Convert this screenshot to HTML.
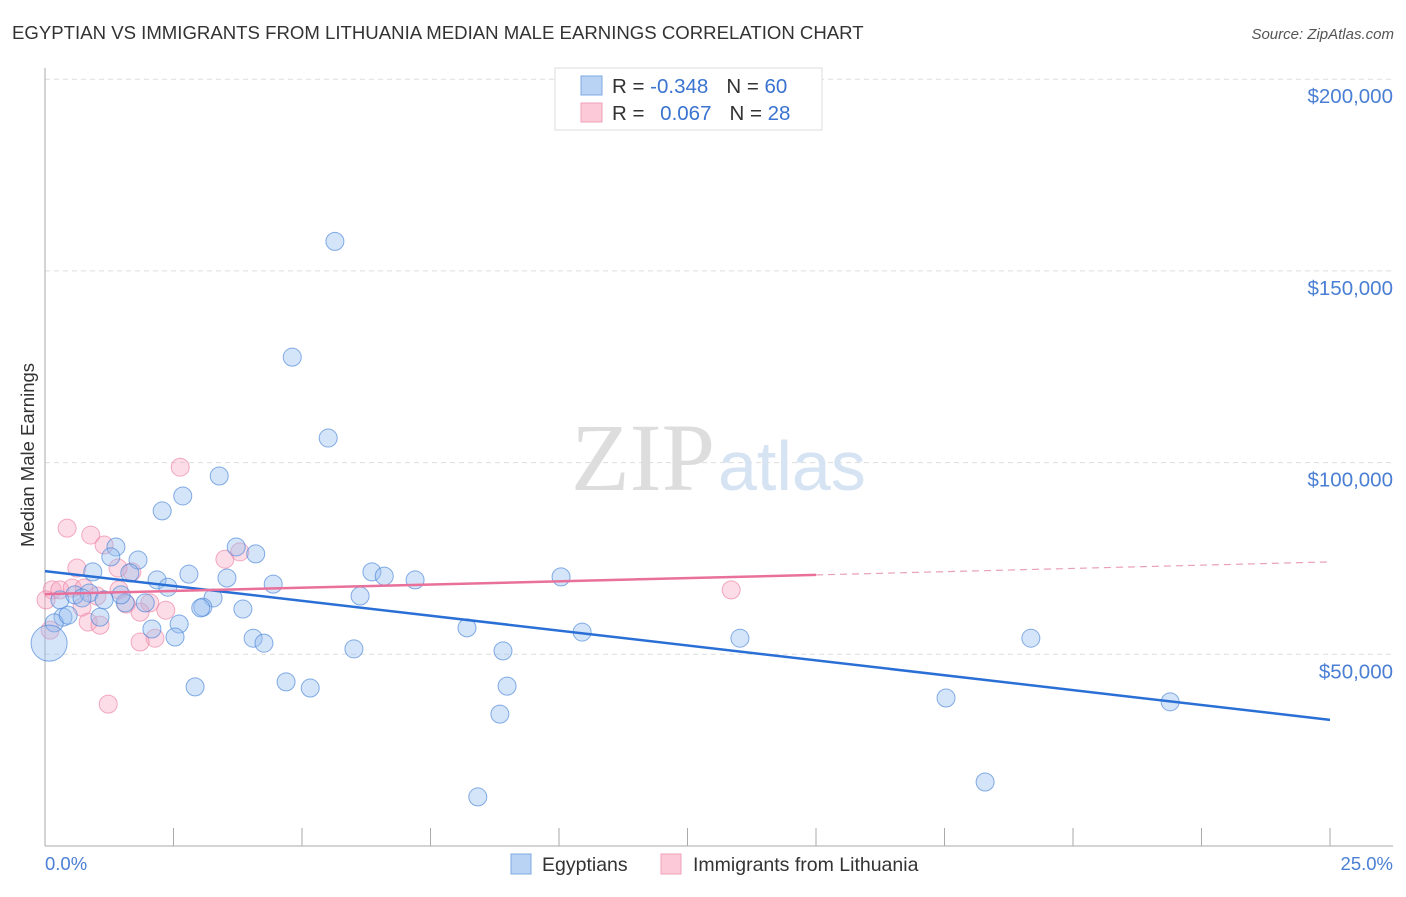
<!DOCTYPE html>
<html><head><meta charset="utf-8"><style>
body{margin:0;background:#fff;font-family:"Liberation Sans",sans-serif}
svg text{font-family:"Liberation Sans",sans-serif}
</style></head><body>
<svg width="1406" height="892">
<text x="12" y="39" font-size="18.6" fill="#333">EGYPTIAN VS IMMIGRANTS FROM LITHUANIA MEDIAN MALE EARNINGS CORRELATION CHART</text>
<text x="1394" y="39" font-size="15" fill="#555" font-style="italic" text-anchor="end">Source: ZipAtlas.com</text>
<g id="grid"></g>
<text x="715" y="490" font-size="96" fill="#ddd" text-anchor="end" style="font-family:'Liberation Serif',serif">ZIP</text>
<text x="718" y="490" font-size="70" fill="#d5e3f3">atlas</text>
<line x1="45" y1="68" x2="45" y2="846" stroke="#aaa"/>
<line x1="45" y1="846" x2="1393" y2="846" stroke="#aaa"/>
<g id="ticks"></g>
<g id="pts"></g>
<g id="lines"></g>
<text transform="translate(34,455) rotate(-90)" font-size="18.5" fill="#333" text-anchor="middle">Median Male Earnings</text>
<text x="45" y="870" font-size="18.5" fill="#4a7fd4">0.0%</text>
<text x="1393" y="870" font-size="18.5" fill="#4a7fd4" text-anchor="end">25.0%</text>
<g>
<rect x="555" y="68" width="267" height="62" fill="#fff" stroke="#ddd"/>
<rect x="581" y="76" width="21" height="19" fill="#b9d3f4" stroke="#7fa9e3"/>
<rect x="581" y="103" width="21" height="19" fill="#fcc9d8" stroke="#f0a0b8"/>
<text x="612" y="93" font-size="20.5" fill="#333">R = <tspan fill="#3a73d0">-0.348</tspan><tspan dx="18">N = </tspan><tspan fill="#3a73d0">60</tspan></text>
<text x="612" y="120" font-size="20.5" fill="#333">R = <tspan dx="10" fill="#3a73d0">0.067</tspan><tspan dx="18">N = </tspan><tspan fill="#3a73d0">28</tspan></text>
</g>
<g>
<rect x="511" y="854" width="20" height="20" fill="#b9d3f4" stroke="#7fa9e3"/>
<text x="542" y="871" font-size="19.5" fill="#333">Egyptians</text>
<rect x="661" y="854" width="20" height="20" fill="#fcc9d8" stroke="#f0a0b8"/>
<text x="693" y="871" font-size="19.5" fill="#333">Immigrants from Lithuania</text>
</g>
</svg>
<script>
const yTicks=[50000,100000,150000,200000];
const yTickLabels=["$50,000","$100,000","$150,000","$200,000"];
const xTicks=[0,2.5,5,7.5,10,12.5,15,17.5,20,22.5,25];
const blueX=[5.64,4.81,5.51,3.39,2.68,2.28,3.72,1.38,4.10,1.81,1.28,0.93,2.80,1.65,2.18,3.54,6.36,6.60,7.20,10.04,4.44,2.39,0.29,0.58,0.86,1.15,3.27,1.95,1.56,0.72,6.13,3.07,3.03,3.85,1.07,0.35,0.18,2.61,2.08,8.21,10.45,2.53,4.05,4.26,13.52,19.18,6.01,8.91,0.08,2.92,4.69,5.16,8.99,17.53,21.89,8.85,8.42,18.29,0.45,1.48];
const blueY=[157.7,127.5,106.4,96.5,91.3,87.4,78.0,78.0,76.2,74.6,75.4,71.5,70.9,71.2,69.4,69.9,71.5,70.4,69.4,70.2,68.3,67.5,64.2,65.5,66.0,64.2,64.7,63.4,63.4,64.7,65.2,62.3,62.1,61.8,59.7,59.7,58.2,57.9,56.6,56.9,55.8,54.5,54.2,52.9,54.2,54.2,51.4,50.9,52.9,41.5,42.8,41.2,41.7,38.6,37.6,34.4,12.8,16.7,60.2,65.5];
const pinkX=[2.63,0.43,0.89,1.15,1.69,3.50,3.79,0.62,0.14,0.29,0.53,0.76,1.01,1.44,1.58,2.04,2.35,1.85,0.72,0.84,1.07,2.14,1.85,0.10,1.23,13.35,0.02,1.42];
const pinkY=[98.8,82.9,81.1,78.5,71.5,74.8,76.7,72.5,66.8,66.8,67.3,67.3,65.2,66.8,63.1,63.4,61.5,61.0,62.3,58.4,57.6,54.2,53.2,56.3,37.0,66.8,64.2,72.5];
const blueTrend=[71.7,32.9];
const pinkTrend=[65.7,70.7,74.1];
const X=v=>45+v/25*1285;
const Y=v=>846-v/50000*191.7;
const NS="http://www.w3.org/2000/svg";
function mk(t,a,p){const e=document.createElementNS(NS,t);for(const k in a)e.setAttribute(k,a[k]);p.appendChild(e);return e;}
const grid=document.getElementById('grid');
yTicks.forEach((v,i)=>{
 const l=mk('line',{x1:45,x2:1393,y1:Y(v),y2:Y(v),stroke:'#ddd','stroke-dasharray':'5,4'},grid);
 
 
 const t=mk('text',{x:1393,y:Y(v)+24,'font-size':20.5,fill:'#4a7fd4','text-anchor':'end'},grid);
 t.textContent=yTickLabels[i];
 
 
});
const ticks=document.getElementById('ticks');
xTicks.forEach(v=>{
 const l=mk('line',{x1:X(v),x2:X(v),y1:828,y2:846,stroke:'#aaa'},ticks);
 
 
});
const pts=document.getElementById('pts');
pinkX.forEach((x,i)=>{
 const c=mk('circle',{cx:X(x),cy:Y(pinkY[i]*1000),r:9,fill:'rgba(248,170,195,0.4)',stroke:'rgba(235,120,155,0.6)','stroke-width':1},pts);
 
 
});
blueX.forEach((x,i)=>{
 const c=mk('circle',{cx:X(x),cy:Y(blueY[i]*1000),r:i===48?18:9,fill:'rgba(150,190,240,0.4)',stroke:'rgba(70,130,215,0.65)','stroke-width':1},pts);
 
 
});
const lines=document.getElementById('lines');
let b=mk('line',{x1:X(0),y1:Y(blueTrend[0]*1000),x2:X(25),y2:Y(blueTrend[1]*1000),stroke:'#2a6fd6','stroke-width':2.5},lines);


let p=mk('line',{x1:X(0),y1:Y(pinkTrend[0]*1000),x2:X(15),y2:Y(pinkTrend[1]*1000),stroke:'#e8709a','stroke-width':2.5},lines);


let pd=mk('line',{x1:X(15),y1:Y(pinkTrend[1]*1000),x2:X(25),y2:Y(pinkTrend[2]*1000),stroke:'#eaa0b8','stroke-width':1.2,'stroke-dasharray':'7,5'},lines);


</script>
</body></html>
